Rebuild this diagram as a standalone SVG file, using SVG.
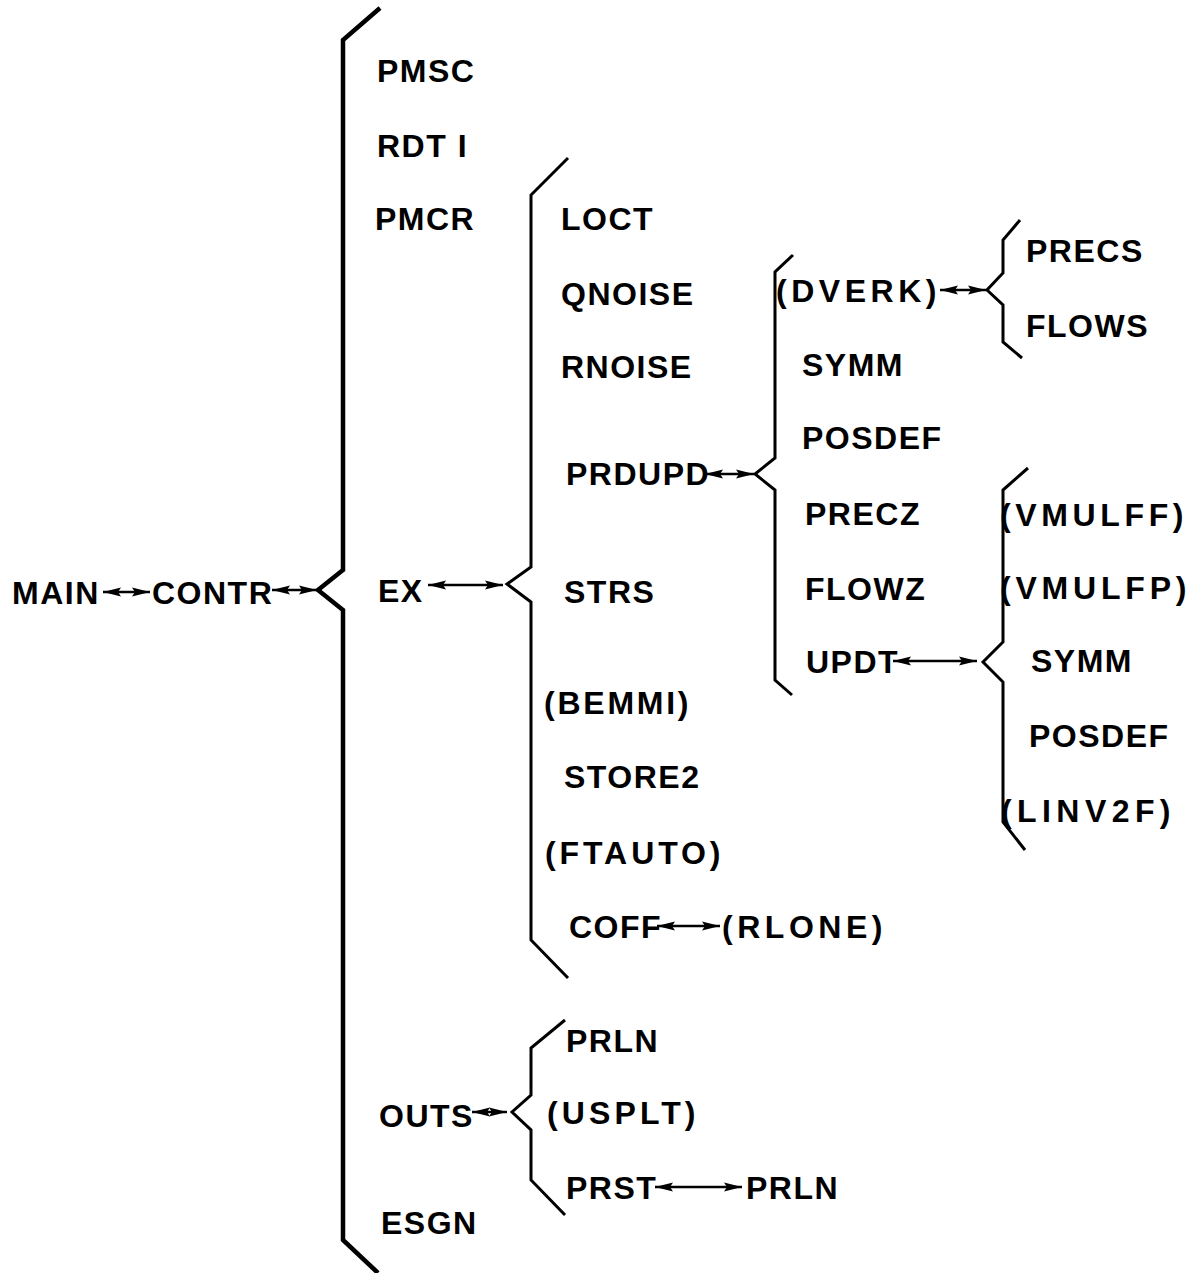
<svg xmlns="http://www.w3.org/2000/svg" width="1199" height="1273" viewBox="0 0 1199 1273">
  <style>
    .t { font-family: "Liberation Sans", Arial, sans-serif; font-weight: bold; font-size: 32px; letter-spacing: 1.5px; fill: #000; }
    .br { fill: none; stroke: #000; stroke-width: 3; stroke-linejoin: miter; }
    .br-main { stroke-width: 4.5; }
    .ar { stroke: #000; stroke-width: 2.5; fill: none; marker-start: url(#ah); marker-end: url(#ah); }
  </style>
  <defs>
    <marker id="ah" markerUnits="userSpaceOnUse" markerWidth="20" markerHeight="10" refX="18" refY="5" orient="auto-start-reverse">
      <path d="M0,0.5 L18,5 L0,9.5 L3,5 Z" fill="#000"/>
    </marker>
  </defs>
  <rect width="1199" height="1273" fill="#fff"/>

  <!-- braces -->
  <g id="brackets">
    <path id="br-contr" class="br br-main" d="M380,8 L343,40 L343,570 L318,590 L343,610 L343,1240 L378,1273"/>
    <path id="br-ex" class="br" d="M568,158 L531,195 L531,567 L507,584 L531,602 L531,940 L568,978"/>
    <path id="br-prdupd" class="br" d="M793,255 L775,272 L775,458 L755,474 L775,490 L775,680 L792,695"/>
    <path id="br-dverk" class="br" d="M1020,220 L1003,240 L1003,273 L987,290 L1003,305 L1003,342 L1022,358"/>
    <path id="br-updt" class="br" d="M1028,468 L1003,490 L1003,642 L983,662 L1003,682 L1003,822 L1025,850"/>
    <path id="br-outs" class="br" d="M565,1020 L531,1048 L531,1095 L512,1112 L531,1130 L531,1180 L565,1215"/>
  </g>

  <!-- connectors -->
  <g id="connectors">
    <line class="ar" x1="103" y1="592" x2="150" y2="592"/>
    <line class="ar" x1="272" y1="590" x2="317" y2="590"/>
    <line class="ar" x1="428" y1="585" x2="503" y2="585"/>
    <line class="ar" x1="705" y1="474" x2="754" y2="474"/>
    <line class="ar" x1="940" y1="290" x2="986" y2="290"/>
    <line class="ar" x1="893" y1="661" x2="977" y2="661"/>
    <line class="ar" x1="657" y1="926" x2="720" y2="926"/>
    <line class="ar" x1="472" y1="1112" x2="507" y2="1112"/>
    <line class="ar" x1="655" y1="1187" x2="742" y2="1187"/>
  </g>

  <!-- level 0 / 1 -->
  <g id="n-main"><text class="t" x="12" y="604">MAIN</text></g>
  <g id="n-contr"><text class="t" x="152" y="604">CONTR</text></g>

  <!-- children of CONTR -->
  <g id="n-pmsc"><text class="t" x="377" y="82">PMSC</text></g>
  <g id="n-rdti"><text class="t" x="377" y="157">RDT I</text></g>
  <g id="n-pmcr"><text class="t" x="375" y="230">PMCR</text></g>
  <g id="n-ex"><text class="t" x="378" y="602">EX</text></g>
  <g id="n-outs"><text class="t" x="379" y="1127">OUTS</text></g>
  <g id="n-esgn"><text class="t" x="381" y="1234">ESGN</text></g>

  <!-- children of EX -->
  <g id="n-loct"><text class="t" x="561" y="230">LOCT</text></g>
  <g id="n-qnoise"><text class="t" x="561" y="305">QNOISE</text></g>
  <g id="n-rnoise"><text class="t" x="561" y="378">RNOISE</text></g>
  <g id="n-prdupd"><text class="t" x="566" y="485">PRDUPD</text></g>
  <g id="n-strs"><text class="t" x="564" y="603">STRS</text></g>
  <g id="n-bemmi"><text class="t" x="544" y="714" textLength="146" lengthAdjust="spacing">(BEMMI)</text></g>
  <g id="n-store2"><text class="t" x="564" y="788">STORE2</text></g>
  <g id="n-ftauto"><text class="t" x="545" y="864" textLength="177" lengthAdjust="spacing">(FTAUTO)</text></g>
  <g id="n-coff"><text class="t" x="569" y="938">COFF</text></g>
  <g id="n-rlone"><text class="t" x="722" y="938" textLength="162" lengthAdjust="spacing">(RLONE)</text></g>

  <!-- children of OUTS -->
  <g id="n-prln1"><text class="t" x="566" y="1052">PRLN</text></g>
  <g id="n-usplt"><text class="t" x="547" y="1124" textLength="150" lengthAdjust="spacing">(USPLT)</text></g>
  <g id="n-prst"><text class="t" x="566" y="1199">PRST</text></g>
  <g id="n-prln2"><text class="t" x="746" y="1199">PRLN</text></g>

  <!-- children of PRDUPD -->
  <g id="n-dverk"><text class="t" x="776" y="302" textLength="162" lengthAdjust="spacing">(DVERK)</text></g>
  <g id="n-symm1"><text class="t" x="802" y="376">SYMM</text></g>
  <g id="n-posdef1"><text class="t" x="802" y="449">POSDEF</text></g>
  <g id="n-precz"><text class="t" x="805" y="525">PRECZ</text></g>
  <g id="n-flowz"><text class="t" x="805" y="600">FLOWZ</text></g>
  <g id="n-updt"><text class="t" x="806" y="673">UPDT</text></g>

  <!-- children of DVERK -->
  <g id="n-precs"><text class="t" x="1026" y="262">PRECS</text></g>
  <g id="n-flows"><text class="t" x="1026" y="337">FLOWS</text></g>

  <!-- children of UPDT -->
  <g id="n-vmulff"><text class="t" x="1000" y="526" textLength="185" lengthAdjust="spacing">(VMULFF)</text></g>
  <g id="n-vmulfp"><text class="t" x="1000" y="599" textLength="188" lengthAdjust="spacing">(VMULFP)</text></g>
  <g id="n-symm2"><text class="t" x="1031" y="672">SYMM</text></g>
  <g id="n-posdef2"><text class="t" x="1029" y="747">POSDEF</text></g>
  <g id="n-linv2f"><text class="t" x="1001" y="822" textLength="171" lengthAdjust="spacing">(LINV2F)</text></g>
</svg>
